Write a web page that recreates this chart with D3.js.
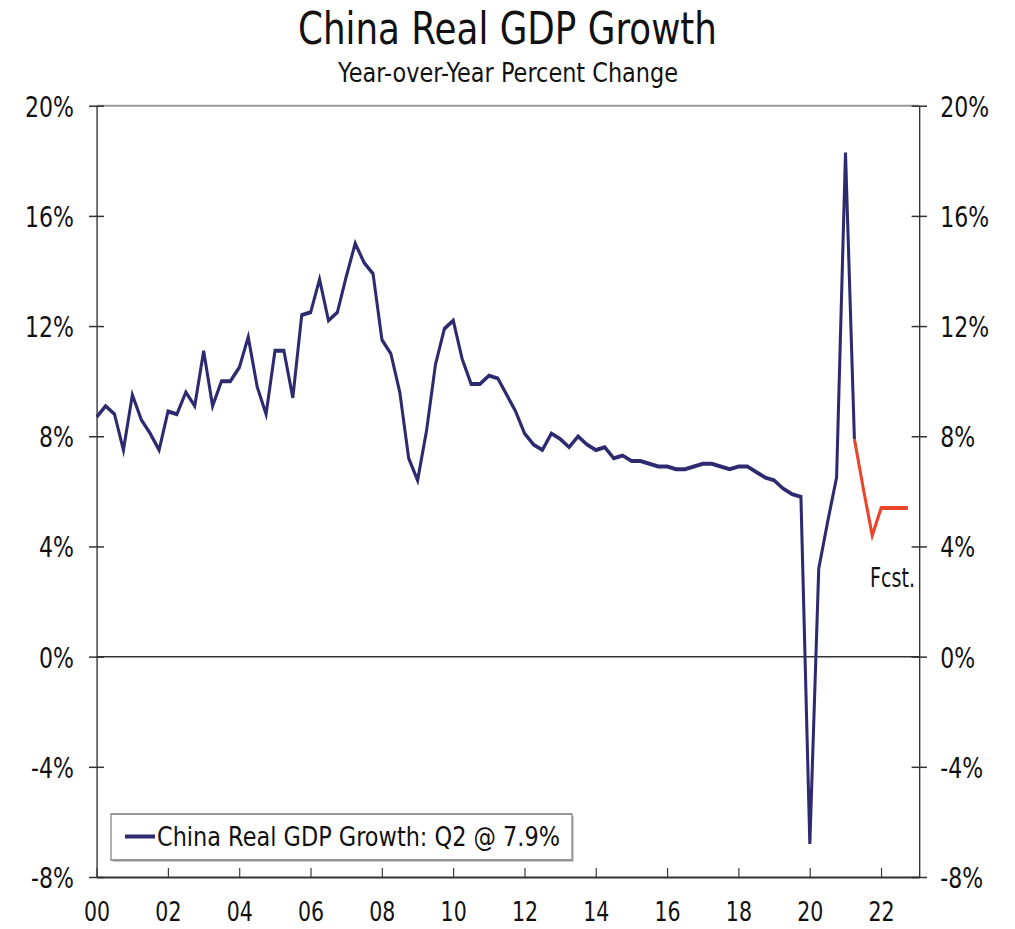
<!DOCTYPE html>
<html>
<head>
<meta charset="utf-8">
<script src="https://cdn.jsdelivr.net/npm/d3@7"></script>
<style>
  body { margin: 0; background: #fff; }
  text { font-family: "DejaVu Sans", Verdana, sans-serif; fill: #111; }
</style>
</head>
<body>
<svg id="chart" width="1015" height="929"></svg>
<script>
/* China real GDP growth, yoy %, quarterly from 2000 Q1 */
var actualStart = 2000;
var actualValues = [
  8.7, 9.1, 8.8, 7.5,   // 2000
  9.5, 8.6, 8.1, 7.5,   // 2001
  8.9, 8.8, 9.6, 9.1,   // 2002
  11.1, 9.1, 10.0, 10.0, // 2003
  10.5, 11.6, 9.8, 8.8, // 2004
  11.1, 11.1, 9.4, 12.4, // 2005
  12.5, 13.7, 12.2, 12.5, // 2006
  13.8, 15.0, 14.3, 13.9, // 2007
  11.5, 11.0, 9.6, 7.2, // 2008
  6.4, 8.2, 10.6, 11.9, // 2009
  12.2, 10.8, 9.9, 9.9, // 2010
  10.2, 10.1, 9.5, 8.9, // 2011
  8.1, 7.7, 7.5, 8.1,   // 2012
  7.9, 7.6, 8.0, 7.7,   // 2013
  7.5, 7.6, 7.2, 7.3,   // 2014
  7.1, 7.1, 7.0, 6.9,   // 2015
  6.9, 6.8, 6.8, 6.9,   // 2016
  7.0, 7.0, 6.9, 6.8,   // 2017
  6.9, 6.9, 6.7, 6.5,   // 2018
  6.4, 6.1, 5.9, 5.8,   // 2019
  -6.8, 3.2, 4.9, 6.5,  // 2020
  18.3, 7.9             // 2021
];
// forecast starts at 2021 Q2
var forecastStart = 2021.25;
var forecastValues = [7.9, 6.1, 4.4, 5.4, 5.4, 5.4, 5.4];

var yTicks = [-8, -4, 0, 4, 8, 12, 16, 20];
var xTicks = [2000, 2002, 2004, 2006, 2008, 2010, 2012, 2014, 2016, 2018, 2020, 2022];

var title = "China Real GDP Growth";
var subtitle = "Year-over-Year Percent Change";
var legendLabel = "China Real GDP Growth: Q2 @ 7.9%";

var blue = "#2e2a70", red = "#e8452a";

// the whole drawing is squeezed sideways
var sx = 0.76;
function X(px){ return px / sx; }

var pLeft = 96.7, pRight = 919.3, pTop = 105.7, pBottom = 877;

var svg = d3.select("#chart");
var g = svg.append("g").attr("transform", "scale(" + sx + ",1)");

var x = d3.scaleLinear().domain([2000, 2023.07]).range([X(pLeft), X(pRight)]);
var y = d3.scaleLinear().domain([-8, 20]).range([pBottom, pTop]);

function toPoints(start, vals){
    return vals.map(function(v, i){ return {t: start + i / 4, v: v}; });
}
var actual = toPoints(actualStart, actualValues);
var forecast = toPoints(forecastStart, forecastValues);

// titles
g.append("text").attr("x", X(507.5)).attr("y", 44)
    .attr("text-anchor", "middle").attr("font-size", 45)
    .attr("textLength", X(419)).attr("lengthAdjust", "spacingAndGlyphs")
    .text(title);
g.append("text").attr("x", X(508)).attr("y", 82)
    .attr("text-anchor", "middle").attr("font-size", 26)
    .attr("textLength", X(340)).attr("lengthAdjust", "spacingAndGlyphs")
    .text(subtitle);

// frame top
g.append("line").attr("x1", X(pLeft)).attr("x2", X(pRight))
    .attr("y1", pTop).attr("y2", pTop)
    .attr("stroke", "#999").attr("stroke-width", 2);

// zero line
g.append("line").attr("x1", X(pLeft)).attr("x2", X(pRight))
    .attr("y1", y(0)).attr("y2", y(0))
    .attr("stroke", "#333").attr("stroke-width", 1.5);

// left axis
var yl = g.append("g").attr("transform", "translate(" + X(pLeft) + ",0)")
    .call(d3.axisLeft(y).tickValues(yTicks).tickSizeInner(X(7.7)).tickSizeOuter(0)
          .tickFormat(function(d){ return d + "%"; }));
yl.selectAll(".tick line").attr("x1", X(7.3));
yl.selectAll(".tick text").attr("x", -X(22.7)).attr("dy", "0.36em");

// right axis
var yr = g.append("g").attr("transform", "translate(" + X(pRight) + ",0)")
    .call(d3.axisRight(y).tickValues(yTicks).tickSizeInner(X(7.7)).tickSizeOuter(0)
          .tickFormat(function(d){ return d + "%"; }));
yr.selectAll(".tick line").attr("x1", -X(7.7));
yr.selectAll(".tick text").attr("x", X(21)).attr("dy", "0.36em");

// bottom axis
var xb = g.append("g").attr("transform", "translate(0," + pBottom + ")")
    .call(d3.axisBottom(x).tickValues(xTicks).tickSizeInner(-9).tickSizeOuter(0)
          .tickFormat(function(d){ return d3.format("02d")(d % 100); }));
xb.selectAll(".tick text").attr("y", 44).attr("dy", 0);

[yl, yr, xb].forEach(function(a){
    a.attr("font-family", null).attr("font-size", null);
    a.select(".domain").attr("stroke", "#333").attr("stroke-width", 1.8);
    a.selectAll(".tick line").attr("stroke", "#333").attr("stroke-width", 1.5);
    a.selectAll(".tick text").attr("fill", "#111");
});
yl.selectAll(".tick text").attr("font-size", 29);
yr.selectAll(".tick text").attr("font-size", 29);
xb.selectAll(".tick text").attr("font-size", 27);

// lines
var line = d3.line().x(function(d){ return x(d.t); }).y(function(d){ return y(d.v); });
g.append("path").datum(actual).attr("d", line)
    .attr("fill", "none").attr("stroke", blue).attr("stroke-width", 4);
g.append("path").datum(forecast).attr("d", line)
    .attr("fill", "none").attr("stroke", red).attr("stroke-width", 4);

g.append("text").attr("x", X(870)).attr("y", 587).attr("font-size", 27)
    .attr("textLength", X(45)).attr("lengthAdjust", "spacingAndGlyphs")
    .text("Fcst.");

// legend
g.append("rect").attr("x", X(113)).attr("y", 816).attr("width", X(461)).attr("height", 46)
    .attr("fill", "#ccc");
g.append("rect").attr("x", X(111)).attr("y", 814).attr("width", X(461)).attr("height", 46)
    .attr("fill", "#fff").attr("stroke", "#777").attr("stroke-width", 1.5);
g.append("line").attr("x1", X(125)).attr("x2", X(155)).attr("y1", 836.5).attr("y2", 836.5)
    .attr("stroke", blue).attr("stroke-width", 4);
g.append("text").attr("x", X(157)).attr("y", 846).attr("font-size", 27)
    .attr("textLength", X(403)).attr("lengthAdjust", "spacingAndGlyphs")
    .text(legendLabel);
</script>
</body>
</html>
